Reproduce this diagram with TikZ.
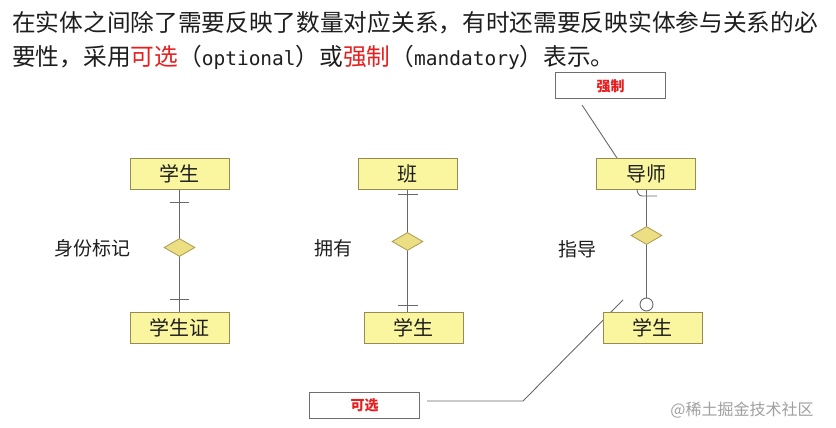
\documentclass[tikz,border=0pt]{standalone}
\usepackage{fontspec}
\setmainfont{Noto Sans CJK SC}
\newfontfamily\monof{DejaVu Sans Mono}
\usetikzlibrary{shapes.geometric}
\definecolor{entfill}{RGB}{250,246,160}
\definecolor{entdraw}{RGB}{150,140,80}
\definecolor{diafill}{RGB}{236,222,130}
\definecolor{diadraw}{RGB}{170,155,80}
\definecolor{lncol}{RGB}{105,105,105}
\definecolor{txtcol}{RGB}{30,30,30}
\definecolor{redtxt}{RGB}{232,30,30}
\definecolor{boxdraw}{RGB}{110,110,110}
\definecolor{wmark}{RGB}{160,160,160}
\tikzset{
  entity/.style={draw=entdraw, fill=entfill, line width=1pt, minimum width=99pt, minimum height=31pt, inner sep=0pt, text=txtcol, font=\fontsize{20}{24}\selectfont},
  rel/.style={shape=diamond, draw=diadraw, fill=diafill, line width=0.8pt, minimum width=31pt, minimum height=18pt, inner sep=0pt},
  conn/.style={draw=lncol, line width=0.9pt},
  rlabel/.style={text=txtcol, inner sep=0pt, font=\fontsize{19}{22}\selectfont},
  callout/.style={draw=boxdraw, fill=white, line width=1pt, minimum width=110pt, minimum height=26pt, inner sep=0pt, text=redtxt, font=\fontsize{14}{16}\selectfont\bfseries},
  headline/.style={anchor=west, inner sep=0pt, text=txtcol, font=\fontsize{23.7}{28}\selectfont},
}
\begin{document}
\begin{tikzpicture}[x=1pt,y=-1pt]
\useasboundingbox (0,0) rectangle (836,428);
\fill[white] (0,0) rectangle (836,428);

% headline
\node[headline] (h1) at (12,23) {在实体之间除了需要反映了数量对应关系，有时还需要反映实体参与关系的必};
\node[headline] (h2) at (12,57) {要性，采用{\color{redtxt}可选}（{\monof\fontsize{19.5}{24}\selectfont optional}）或{\color{redtxt}强制}（{\monof\fontsize{19.5}{24}\selectfont mandatory}）表示。};

% callout lines (behind boxes)
\coordinate (oa) at (427,401);
\coordinate (ob) at (523,401);
\coordinate (oc) at (623,300);
\draw[conn] (oa) -- (ob) -- (oc);
\coordinate (ma) at (582,105);
\coordinate (mb) at (617,158);
\draw[conn] (ma) -- (mb);

% left group
\node[entity] (s1) at (179.5,173.5) {学生};
\node[entity] (c1) at (179.5,327.5) {学生证};
\draw[conn] (s1.south) -- (c1.north);
\node[rel] (r1) at (179.5,247.5) {};
\draw[conn] (170,202) -- (189,202);
\draw[conn] (170,299) -- (189,299);
\node[rlabel] (l1) at (92,248) {身份标记};

% middle group
\node[entity] (b2) at (407.5,173.5) {班};
\node[entity] (s2) at (413.5,327.5) {学生};
\draw[conn] (b2.south) -- (b2.south |- s2.north);
\node[rel] (r2) at (407.5,241.5) {};
\draw[conn] (398,194) -- (418,194);
\draw[conn] (398,305) -- (418,305);
\node[rlabel] (l2) at (333,248) {拥有};

% right group
\node[entity] (t3) at (646,173.5) {导师};
\node[entity] (s3) at (652.5,327.5) {学生};
\node[circle, draw=lncol, fill=white, line width=0.9pt, minimum size=13pt, inner sep=0pt] (o3) at (646.5,304.5) {};
\draw[conn] (t3.south -| o3.north) -- (o3.north);
\node[rel] (r3) at (646.5,235.5) {};
\draw[conn] (637,189) to[out=-90,in=180] (642,196) -- (657,196);
\node[rlabel] (l3) at (577,249) {指导};

% callout boxes
\node[callout] (mand) at (610.5,86) {强制};
\node[callout] (opt) at (364.5,405.5) {可选};

% watermark
\node[inner sep=0pt, text=wmark, font=\fontsize{16}{18}\selectfont] (wm) at (742,410) {@稀土掘金技术社区};
\end{tikzpicture}
\end{document}
